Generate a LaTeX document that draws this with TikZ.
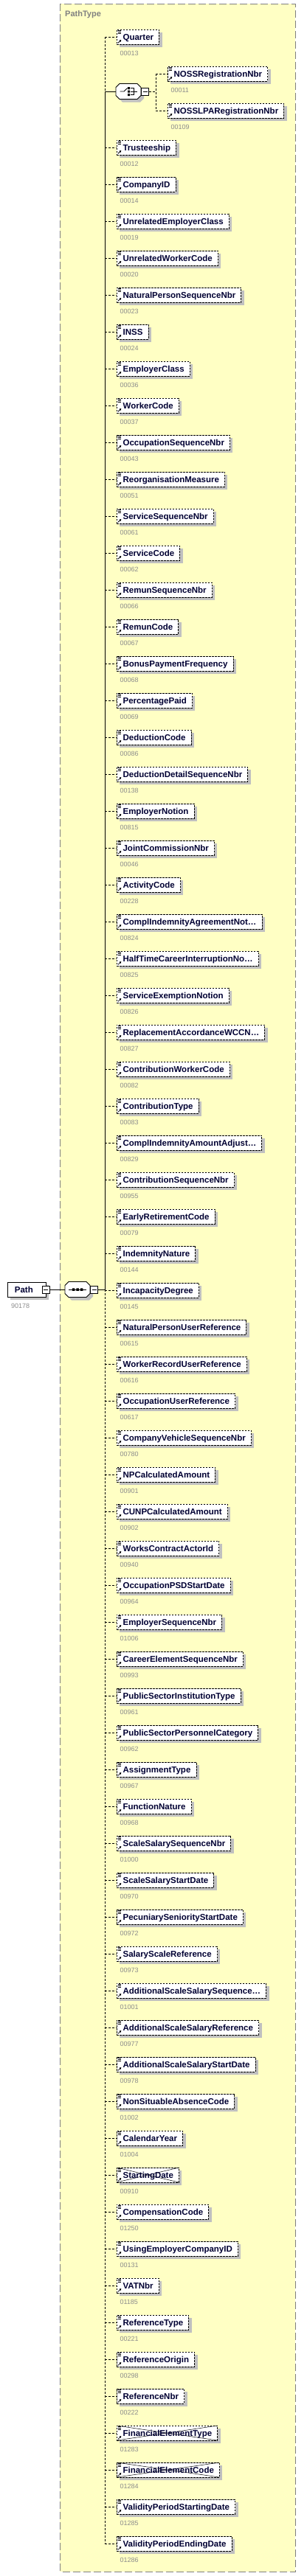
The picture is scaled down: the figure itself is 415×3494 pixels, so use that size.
\documentclass[tikz,border=0pt]{standalone}
\usepackage{fontspec}
\setmainfont{Liberation Sans}
\usetikzlibrary{shadows,arrows.meta}

\definecolor{typefill}{HTML}{FFFFC4}
\definecolor{typeline}{HTML}{808080}
\definecolor{shgray}{HTML}{C0C0C0}
\definecolor{numgray}{HTML}{8C8C8C}
\definecolor{elemtext}{HTML}{000033}

% little marks in the corners of an element box
\newcommand{\elemicons}{%
  \draw[solid,line width=0.6pt]
    ([shift={(1.6pt,-1.3pt)}]path picture bounding box.north west) -- ++(4pt,0pt)
    ([shift={(1.6pt,-3.1pt)}]path picture bounding box.north west) -- ++(4pt,0pt)
    ([shift={(1.6pt,-4.9pt)}]path picture bounding box.north west) -- ++(4pt,0pt);
  \draw[solid,line width=0.8pt,-{Triangle[length=2.6pt,width=2.8pt]}]
    ([shift={(1.8pt,1.6pt)}]path picture bounding box.south west) -- ++(4.4pt,4.4pt);}

% octagon behind a compositor, centre #1,#2
\newcommand{\octbox}[2]{%
  \fill[shgray] (#1-13,#2-6.5) -- (#1-13,#2+9.5) -- (#1-8,#2+14.5) -- (#1+16,#2+14.5) -- (#1+21,#2+9.5)
    -- (#1+21,#2-1.5) -- (#1+16,#2-6.5) -- cycle;
  \draw[fill=white,line width=0.8pt] (#1-17,#2-5.5) -- (#1-17,#2+5.5) -- (#1-12,#2+10.5) -- (#1+12,#2+10.5)
    -- (#1+17,#2+5.5) -- (#1+17,#2-5.5) -- (#1+12,#2-10.5) -- (#1-12,#2-10.5) -- cycle;}

\begin{document}
\begin{tikzpicture}[x=1pt,y=-1pt,
    elem/.style={draw,dash pattern=on 2.5pt off 1.5pt,line width=0.8pt,fill=white,
      drop shadow={shadow xshift=4pt,shadow yshift=-4pt,fill=shgray,opacity=1},
      anchor=west,minimum height=20pt,inner ysep=0pt,inner xsep=7.5pt,
      text height=8.2pt,text depth=0pt,text=elemtext,
      font=\bfseries\fontsize{11.5}{13}\selectfont,
      execute at begin node=\hspace{1pt},path picture={\elemicons}},
    gone/.style={elem,path picture={\elemicons
      \draw[solid,line width=0.5pt] (path picture bounding box.north west) -- (path picture bounding box.south east)
        (path picture bounding box.south west) -- (path picture bounding box.north east);}},
    num/.style={anchor=west,inner sep=0pt,text height=6.4pt,text depth=0pt,
      font=\fontsize{9}{10}\selectfont,text=numgray},
    conn/.style={dash pattern=on 3pt off 2pt,line width=0.8pt},
    solidconn/.style={solid,line width=0.8pt},
    minusbox/.style={draw,solid,fill=white,minimum size=10pt,inner sep=0pt,line width=0.7pt,
      path picture={\draw[line width=0.8pt] ([xshift=2pt]path picture bounding box.west)
        -- ([xshift=-2pt]path picture bounding box.east);}},
    compositor/.style={rectangle,minimum width=34pt,minimum height=21pt,inner sep=0pt},
    choicesym/.style={path picture={
      \draw[line width=0.8pt] ([xshift=-11.5pt]path picture bounding box.center) -- ++(5.5pt,0pt) -- ++(4.5pt,4.5pt);
      \fill[black] ([shift={(-1pt,3pt)}]path picture bounding box.center) rectangle ++(3pt,3pt)
        ([shift={(-1pt,-1.5pt)}]path picture bounding box.center) rectangle ++(3pt,3pt)
        ([shift={(-1pt,-6pt)}]path picture bounding box.center) rectangle ++(3pt,3pt);
      \draw[line width=0.8pt] ([shift={(3pt,4.5pt)}]path picture bounding box.center) -- ++(4.5pt,0pt) -- ++(0pt,-9pt) -- ++(-4.5pt,0pt)
        ([shift={(3pt,0pt)}]path picture bounding box.center) -- ++(9pt,0pt);}},
    seqsym/.style={path picture={
      \draw[line width=0.8pt] ([xshift=-12pt]path picture bounding box.center) -- ([xshift=12pt]path picture bounding box.center);
      \fill[black] ([shift={(-7.25pt,-1.75pt)}]path picture bounding box.center) rectangle ++(3.5pt,3.5pt)
        ([shift={(-1.75pt,-1.75pt)}]path picture bounding box.center) rectangle ++(3.5pt,3.5pt)
        ([shift={(3.75pt,-1.75pt)}]path picture bounding box.center) rectangle ++(3.5pt,3.5pt);}},
    pathelem/.style={draw,solid,line width=0.8pt,fill=white,
      drop shadow={shadow xshift=4pt,shadow yshift=-4pt,fill=shgray,opacity=1},
      anchor=west,minimum height=20pt,inner ysep=0pt,inner xsep=9.5pt,text width=32.7pt,align=left,
      text height=8.2pt,text depth=0pt,text=elemtext,font=\bfseries\fontsize{11.5}{13}\selectfont}]

  \useasboundingbox (0,0) rectangle (415,3494);

  % the complex type
  \draw[typeline,fill=typefill,line width=1pt,dash pattern=on 10pt off 4pt] (81.3,5.3) rectangle (400.3,3488);
  \node[anchor=west,inner sep=0pt,text=typeline,font=\bfseries\fontsize{11}{13}\selectfont] (typelabel) at (88,20) {PathType};

  % root element and its sequence
  \node[pathelem] (path) at (10,1749) {Path};
  \node[minusbox] (pathminus) at (62,1749) {};
  \node[num] (pathnum) at (15,1771) {90178};
  \octbox{105}{1749}
  \node[compositor,seqsym] (seq) at (105,1749) {};
  \node[minusbox] (seqminus) at (127.7,1749) {};

  % choice
  \octbox{174}{124}
  \node[compositor,choicesym] (choice) at (174,124) {};
  \node[minusbox] (choiceminus) at (196.7,124) {};
  \node[elem] (c1) at (226.7,100) {NOSSRegistrationNbr};        \node[num] (m1) at (231.3,122) {00011};
  \node[elem] (c2) at (226.7,150) {NOSSLPARegistrationNbr};     \node[num] (m2) at (231.3,172) {00109};

  % children
  \node[elem] (e1) at (157.7,50) {Quarter};                       \node[num] (n1) at (162.3,72) {00013};
  \node[elem] (e2) at (157.7,200) {Trusteeship};                  \node[num] (n2) at (162.3,222) {00012};
  \node[elem] (e3) at (157.7,250) {CompanyID};                    \node[num] (n3) at (162.3,272) {00014};
  \node[elem] (e4) at (157.7,300) {UnrelatedEmployerClass};       \node[num] (n4) at (162.3,322) {00019};
  \node[elem] (e5) at (157.7,350) {UnrelatedWorkerCode};          \node[num] (n5) at (162.3,372) {00020};
  \node[elem] (e6) at (157.7,400) {NaturalPersonSequenceNbr};     \node[num] (n6) at (162.3,422) {00023};
  \node[elem] (e7) at (157.7,450) {INSS};                         \node[num] (n7) at (162.3,472) {00024};
  \node[elem] (e8) at (157.7,500) {EmployerClass};                \node[num] (n8) at (162.3,522) {00036};
  \node[elem] (e9) at (157.7,550) {WorkerCode};                   \node[num] (n9) at (162.3,572) {00037};
  \node[elem] (e10) at (157.7,600) {OccupationSequenceNbr};       \node[num] (n10) at (162.3,622) {00043};
  \node[elem] (e11) at (157.7,650) {ReorganisationMeasure};       \node[num] (n11) at (162.3,672) {00051};
  \node[elem] (e12) at (157.7,700) {ServiceSequenceNbr};          \node[num] (n12) at (162.3,722) {00061};
  \node[elem] (e13) at (157.7,750) {ServiceCode};                 \node[num] (n13) at (162.3,772) {00062};
  \node[elem] (e14) at (157.7,800) {RemunSequenceNbr};            \node[num] (n14) at (162.3,822) {00066};
  \node[elem] (e15) at (157.7,850) {RemunCode};                   \node[num] (n15) at (162.3,872) {00067};
  \node[elem] (e16) at (157.7,900) {BonusPaymentFrequency};       \node[num] (n16) at (162.3,922) {00068};
  \node[elem] (e17) at (157.7,950) {PercentagePaid};              \node[num] (n17) at (162.3,972) {00069};
  \node[elem] (e18) at (157.7,1000) {DeductionCode};              \node[num] (n18) at (162.3,1022) {00086};
  \node[elem] (e19) at (157.7,1050) {DeductionDetailSequenceNbr}; \node[num] (n19) at (162.3,1072) {00138};
  \node[elem] (e20) at (157.7,1100) {EmployerNotion};             \node[num] (n20) at (162.3,1122) {00815};
  \node[elem] (e21) at (157.7,1150) {JointCommissionNbr};         \node[num] (n21) at (162.3,1172) {00046};
  \node[elem] (e22) at (157.7,1200) {ActivityCode};               \node[num] (n22) at (162.3,1222) {00228};
  \node[elem] (e23) at (157.7,1250) {ComplIndemnityAgreementNot…};  \node[num] (n23) at (162.3,1272) {00824};
  \node[elem] (e24) at (157.7,1300) {HalfTimeCareerInterruptionNo…};\node[num] (n24) at (162.3,1322) {00825};
  \node[elem] (e25) at (157.7,1350) {ServiceExemptionNotion};     \node[num] (n25) at (162.3,1372) {00826};
  \node[elem] (e26) at (157.7,1400) {ReplacementAccordanceWCCN…}; \node[num] (n26) at (162.3,1422) {00827};
  \node[elem] (e27) at (157.7,1450) {ContributionWorkerCode};     \node[num] (n27) at (162.3,1472) {00082};
  \node[elem] (e28) at (157.7,1500) {ContributionType};           \node[num] (n28) at (162.3,1522) {00083};
  \node[elem] (e29) at (157.7,1550) {ComplIndemnityAmountAdjust…};\node[num] (n29) at (162.3,1572) {00829};
  \node[elem] (e30) at (157.7,1600) {ContributionSequenceNbr};    \node[num] (n30) at (162.3,1622) {00955};
  \node[elem] (e31) at (157.7,1650) {EarlyRetirementCode};        \node[num] (n31) at (162.3,1672) {00079};
  \node[elem] (e32) at (157.7,1700) {IndemnityNature};            \node[num] (n32) at (162.3,1722) {00144};
  \node[elem] (e33) at (157.7,1750) {IncapacityDegree};           \node[num] (n33) at (162.3,1772) {00145};
  \node[elem] (e34) at (157.7,1800) {NaturalPersonUserReference}; \node[num] (n34) at (162.3,1822) {00615};
  \node[elem] (e35) at (157.7,1850) {WorkerRecordUserReference};  \node[num] (n35) at (162.3,1872) {00616};
  \node[elem] (e36) at (157.7,1900) {OccupationUserReference};    \node[num] (n36) at (162.3,1922) {00617};
  \node[elem] (e37) at (157.7,1950) {CompanyVehicleSequenceNbr};  \node[num] (n37) at (162.3,1972) {00780};
  \node[elem] (e38) at (157.7,2000) {NPCalculatedAmount};         \node[num] (n38) at (162.3,2022) {00901};
  \node[elem] (e39) at (157.7,2050) {CUNPCalculatedAmount};       \node[num] (n39) at (162.3,2072) {00902};
  \node[elem] (e40) at (157.7,2100) {WorksContractActorId};       \node[num] (n40) at (162.3,2122) {00940};
  \node[elem] (e41) at (157.7,2150) {OccupationPSDStartDate};     \node[num] (n41) at (162.3,2172) {00964};
  \node[elem] (e42) at (157.7,2200) {EmployerSequenceNbr};        \node[num] (n42) at (162.3,2222) {01006};
  \node[elem] (e43) at (157.7,2250) {CareerElementSequenceNbr};   \node[num] (n43) at (162.3,2272) {00993};
  \node[elem] (e44) at (157.7,2300) {PublicSectorInstitutionType};\node[num] (n44) at (162.3,2322) {00961};
  \node[elem] (e45) at (157.7,2350) {PublicSectorPersonnelCategory};\node[num] (n45) at (162.3,2372) {00962};
  \node[elem] (e46) at (157.7,2400) {AssignmentType};             \node[num] (n46) at (162.3,2422) {00967};
  \node[elem] (e47) at (157.7,2450) {FunctionNature};             \node[num] (n47) at (162.3,2472) {00968};
  \node[elem] (e48) at (157.7,2500) {ScaleSalarySequenceNbr};     \node[num] (n48) at (162.3,2522) {01000};
  \node[elem] (e49) at (157.7,2550) {ScaleSalaryStartDate};       \node[num] (n49) at (162.3,2572) {00970};
  \node[elem] (e50) at (157.7,2600) {PecuniarySeniorityStartDate};\node[num] (n50) at (162.3,2622) {00972};
  \node[elem] (e51) at (157.7,2650) {SalaryScaleReference};       \node[num] (n51) at (162.3,2672) {00973};
  \node[elem] (e52) at (157.7,2700) {AdditionalScaleSalarySequence…};\node[num] (n52) at (162.3,2722) {01001};
  \node[elem] (e53) at (157.7,2750) {AdditionalScaleSalaryReference};\node[num] (n53) at (162.3,2772) {00977};
  \node[elem] (e54) at (157.7,2800) {AdditionalScaleSalaryStartDate};\node[num] (n54) at (162.3,2822) {00978};
  \node[elem] (e55) at (157.7,2850) {NonSituableAbsenceCode};     \node[num] (n55) at (162.3,2872) {01002};
  \node[elem] (e56) at (157.7,2900) {CalendarYear};               \node[num] (n56) at (162.3,2922) {01004};
  \node[gone] (e57) at (157.7,2950) {StartingDate};               \node[num] (n57) at (162.3,2972) {00910};
  \node[elem] (e58) at (157.7,3000) {CompensationCode};           \node[num] (n58) at (162.3,3022) {01250};
  \node[elem] (e59) at (157.7,3050) {UsingEmployerCompanyID};     \node[num] (n59) at (162.3,3072) {00131};
  \node[elem] (e60) at (157.7,3100) {VATNbr};                     \node[num] (n60) at (162.3,3122) {01185};
  \node[elem] (e61) at (157.7,3150) {ReferenceType};              \node[num] (n61) at (162.3,3172) {00221};
  \node[elem] (e62) at (157.7,3200) {ReferenceOrigin};            \node[num] (n62) at (162.3,3222) {00298};
  \node[elem] (e63) at (157.7,3250) {ReferenceNbr};               \node[num] (n63) at (162.3,3272) {00222};
  \node[gone] (e64) at (157.7,3300) {FinancialElementType};       \node[num] (n64) at (162.3,3322) {01283};
  \node[gone] (e65) at (157.7,3350) {FinancialElementCode};       \node[num] (n65) at (162.3,3372) {01284};
  \node[elem] (e66) at (157.7,3400) {ValidityPeriodStartingDate}; \node[num] (n66) at (162.3,3422) {01285};
  \node[elem] (e67) at (157.7,3450) {ValidityPeriodEndingDate};   \node[num] (n67) at (162.3,3472) {01286};

  % spine of the sequence
  \coordinate (sp1) at (142.3,124);
  \coordinate (sp2) at (142.3,1749);
  \coordinate (chsp) at (211,124);
  \draw[conn] (e1.west -| sp1) -- (sp1);
  \draw[solidconn] (sp1) -- (sp2);
  \draw[conn] (sp2) -- (e67.west -| sp1);

  % connectors
  \draw[solidconn] (pathminus.east) -- (seq.west);
  \draw[solidconn] (seqminus.east) -- (sp2);
  \draw[solidconn] (sp1) -- (choice.west);
  \draw[conn] (choiceminus.east) -- (chsp);
  \draw[conn] (c1.west -| chsp) -- (c2.west -| chsp);
  \draw[conn] (c1.west -| chsp) -- (c1.west);
  \draw[conn] (c2.west -| chsp) -- (c2.west);
  \foreach \i in {1,...,67}
    \draw[conn] (e\i.west -| sp1) -- (e\i.west);

\end{tikzpicture}
\end{document}
